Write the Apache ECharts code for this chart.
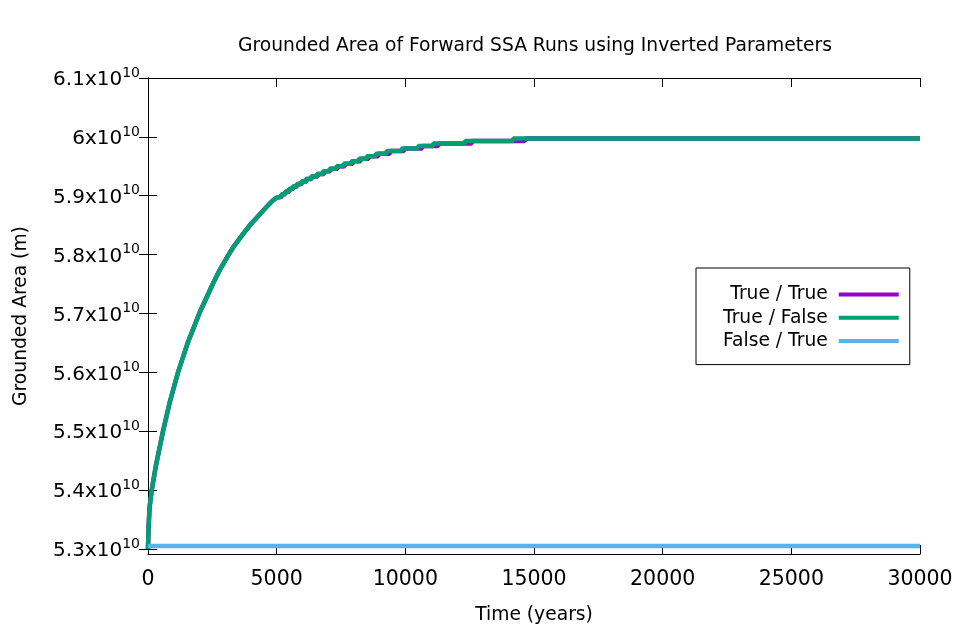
<!DOCTYPE html>
<html>
<head>
<meta charset="utf-8">
<script src="https://cdn.jsdelivr.net/npm/echarts@6/dist/echarts.min.js"></script>
<style>
html,body{margin:0;padding:0;background:#fff;}
#chart{width:953px;height:626px;}
</style>
</head>
<body>
<div id="chart"></div>
<script>
// ---- data ----
const seriesNames = ['True / True', 'True / False', 'False / True'];
const xTicks = [0, 5000, 10000, 15000, 20000, 25000, 30000];
const yTicks = [5.3e10, 5.4e10, 5.5e10, 5.6e10, 5.7e10, 5.8e10, 5.9e10, 6.0e10, 6.1e10];
const yTickLabels = ['5.3', '5.4', '5.5', '5.6', '5.7', '5.8', '5.9', '6', '6.1'];

// early smooth rise (shared by both True runs, they overlap)
const earlyT = [0, 20, 60, 144, 300, 583, 850, 1166, 1550, 2020, 2550, 2800, 3147, 3350, 3574, 3800, 4000, 4250, 4479, 4670, 4868, 5010];
const earlyV = [5.300e10, 5.335e10, 5.370e10, 5.400e10, 5.440e10, 5.500e10, 5.550e10, 5.600e10,
                5.651e10, 5.703e10, 5.753e10, 5.775e10, 5.801e10, 5.815e10, 5.828e10, 5.841e10,
                5.852e10, 5.864e10, 5.875e10, 5.884e10, 5.8925e10, 5.897e10];
// quantised plateau levels
const stepLevels = [5.8984e10, 5.9027e10, 5.9070e10, 5.9113e10, 5.9156e10, 5.9199e10, 5.9242e10, 5.9285e10,
                    5.9328e10, 5.9371e10, 5.9414e10, 5.9457e10, 5.9500e10, 5.9543e10, 5.9586e10, 5.9629e10,
                    5.9672e10, 5.9715e10, 5.9758e10, 5.9801e10, 5.9844e10, 5.9887e10, 5.9930e10, 5.9973e10];
const trueFalseStepT = [5050, 5180, 5320, 5470, 5620, 5780, 5950, 6130, 6330, 6560, 6800, 7050,
                        7320, 7600, 7900, 8190, 8500, 8850, 9270, 9860, 10500, 11080, 12320, 14190];
const trueTrueStepT  = [5070, 5200, 5340, 5490, 5640, 5800, 5980, 6160, 6360, 6600, 6840, 7090,
                        7370, 7650, 7960, 8260, 8580, 8950, 9400, 9950, 10650, 11280, 12580, 14650];
const endT = 30000;
const falseTrueT = [0, 30000];
const falseTrueV = [5.305e10, 5.305e10];

// ---- build series data ----
function buildRun(stepT) {
  const d = earlyT.map((t, i) => [t, earlyV[i]]);
  let prev = earlyV[earlyV.length - 1];
  stepT.forEach((t, i) => {
    d.push([t, prev]);
    d.push([t, stepLevels[i]]);
    prev = stepLevels[i];
  });
  d.push([endT, prev]);
  return d;
}
const trueTrue = buildRun(trueTrueStepT);
const trueFalse = buildRun(trueFalseStepT);
const falseTrue = falseTrueT.map((t, i) => [t, falseTrueV[i]]);

const FONT = 'DejaVu Sans';
const TXT = 18.7;
const chart = echarts.init(document.getElementById('chart'), null, {renderer: 'canvas'});
const yMin = 5.2915e10, yMax = 6.1e10;

const axisLineStyle = {show: true, lineStyle: {color: '#000', width: 1}};
const tickStyle = {show: true, inside: true, length: 9, lineStyle: {color: '#000', width: 1}};

chart.setOption({
  animation: false,
  backgroundColor: '#fff',
  title: {
    text: 'Grounded Area of Forward SSA Runs using Inverted Parameters',
    left: 530, top: 32, textAlign: 'center',
    textStyle: {fontFamily: FONT, fontSize: TXT, fontWeight: 'normal', color: '#000'}
  },
  grid: {left: 148, right: 33, top: 78, bottom: 72, outerBoundsMode: 'none', containLabel: false},
  legend: {
    orient: 'vertical', left: 696, top: 268, align: 'right',
    padding: [17, 11, 14, 27], itemGap: 4.3, itemWidth: 60, itemHeight: 4,
    icon: 'rect',
    borderColor: '#000', borderWidth: 1,
    data: seriesNames,
    formatter: n => '{a|' + n + '}',
    textStyle: {
      fontFamily: FONT, fontSize: TXT, color: '#000',
      rich: {a: {fontFamily: FONT, fontSize: TXT, color: '#000', width: 96, align: 'right', padding: [0, 6, 0, 0]}}
    }
  },
  xAxis: [{
    type: 'value', min: 0, max: 30000, interval: 5000,
    axisLine: axisLineStyle, axisTick: tickStyle, splitLine: {show: false},
    axisLabel: {fontFamily: FONT, fontSize: 20.5, color: '#000', margin: 15, formatter: v => String(v)},
    name: 'Time (years)', nameLocation: 'middle', nameGap: 52,
    nameTextStyle: {fontFamily: FONT, fontSize: TXT, color: '#000'}
  }, {
    type: 'value', position: 'top', min: 0, max: 30000, interval: 5000,
    axisLine: axisLineStyle, axisTick: tickStyle, splitLine: {show: false},
    axisLabel: {show: false}
  }],
  yAxis: [{
    type: 'value', min: yMin, max: yMax,
    axisLine: axisLineStyle,
    axisTick: Object.assign({}, tickStyle, {customValues: yTicks}),
    splitLine: {show: false},
    axisLabel: {
      customValues: yTicks, margin: 8,
      formatter: v => {
        const i = yTicks.findIndex(t => Math.abs(t - v) < 1e6);
        return '{b|' + (i >= 0 ? yTickLabels[i] : '') + 'x10}{s|10}';
      },
      rich: {
        b: {fontFamily: FONT, fontSize: 20, color: '#000', verticalAlign: 'bottom'},
        s: {fontFamily: FONT, fontSize: 14, color: '#000', verticalAlign: 'bottom', padding: [0, 0, 10, 0]}
      }
    },
    name: 'Grounded Area (m)', nameLocation: 'middle', nameGap: 117, nameRotate: 90,
    nameTextStyle: {fontFamily: FONT, fontSize: TXT, color: '#000'}
  }, {
    type: 'value', position: 'right', min: yMin, max: yMax,
    axisLine: axisLineStyle,
    axisTick: Object.assign({}, tickStyle, {customValues: yTicks}),
    splitLine: {show: false},
    axisLabel: {show: false}
  }],
  series: [{
    name: seriesNames[0], type: 'line', data: trueTrue, symbol: 'none',
    lineStyle: {color: '#9400d3', width: 4.5}, itemStyle: {color: '#9400d3'}
  }, {
    name: seriesNames[1], type: 'line', data: trueFalse, symbol: 'none',
    lineStyle: {color: '#009e73', width: 4.5}, itemStyle: {color: '#009e73'}
  }, {
    name: seriesNames[2], type: 'line', data: falseTrue, symbol: 'none',
    lineStyle: {color: '#56b4e9', width: 4.5}, itemStyle: {color: '#56b4e9'}
  }]
});
</script>
</body>
</html>
